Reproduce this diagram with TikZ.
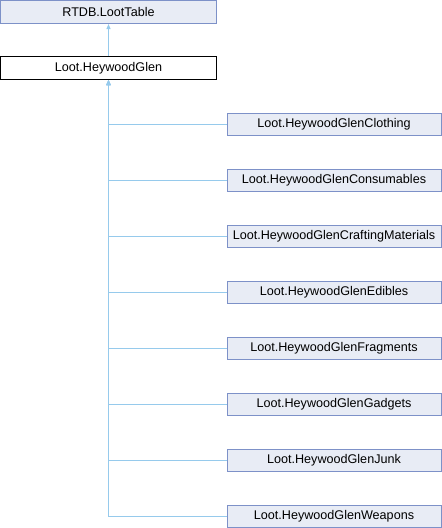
\documentclass[tikz,border=0pt]{standalone}
\usepackage{fontspec}
\setmainfont{Liberation Sans}
\usetikzlibrary{arrows.meta}
\definecolor{boxfill}{RGB}{232,236,245}
\definecolor{boxdraw}{RGB}{125,145,200}
\definecolor{edgecol}{RGB}{150,202,236}
\tikzset{
  cls/.style={draw=boxdraw, fill=boxfill, line width=1pt, inner sep=0pt, font=\fontsize{12.6}{14}\selectfont},
  cur/.style={draw=black, fill=white, line width=1pt, inner sep=0pt, font=\fontsize{12.6}{14}\selectfont},
  parentbox/.style={minimum width=216pt, minimum height=23pt},
  childbox/.style={minimum width=214pt, minimum height=22pt},
  edge/.style={draw=edgecol, line width=1.1pt, -{Triangle[length=5pt,width=4pt]}}
}
\begin{document}
\begin{tikzpicture}[x=1pt,y=-1pt]
\useasboundingbox (0,0) rectangle (442,528);
\node[cls, parentbox] (rtdb) at (108.5,12) {RTDB.LootTable};
\node[cur, parentbox] (hg) at (108.5,68) {Loot.HeywoodGlen};
\node[cls, childbox] (c1) at (334,124.5) {Loot.HeywoodGlenClothing};
\node[cls, childbox] (c2) at (334,180.5) {Loot.HeywoodGlenConsumables};
\node[cls, childbox] (c3) at (334,236.5) {Loot.HeywoodGlenCraftingMaterials};
\node[cls, childbox] (c4) at (334,292.5) {Loot.HeywoodGlenEdibles};
\node[cls, childbox] (c5) at (334,348.5) {Loot.HeywoodGlenFragments};
\node[cls, childbox] (c6) at (334,404.5) {Loot.HeywoodGlenGadgets};
\node[cls, childbox] (c7) at (334,460.5) {Loot.HeywoodGlenJunk};
\node[cls, childbox] (c8) at (334,516.5) {Loot.HeywoodGlenWeapons};
\draw[edge] (hg.north) -- (rtdb.south);
\foreach \c in {c1,c2,c3,c4,c5,c6,c7,c8}{
  \draw[edge] (\c.west) -| (hg.south);
}
\end{tikzpicture}
\end{document}
